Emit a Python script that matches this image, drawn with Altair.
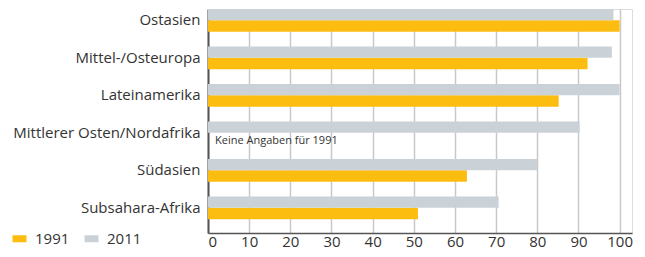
import altair as alt
import pandas as pd

regions = ["Ostasien", "Mittel-/Osteuropa", "Lateinamerika",
           "Mittlerer Osten/Nordafrika", "Südasien", "Subsahara-Afrika"]
v1991 = [100, 92.2, 85.2, None, 62.9, 51]
v2011 = [98.5, 98.1, 100, 90.3, 80, 70.6]
years = ["1991", "2011"]
colors = ["#FDBD10", "#CAD2D8"]
ticks = [0, 10, 20, 30, 40, 50, 60, 70, 80, 90, 100]
note_text = "Keine Angaben für 1991"
note_region = "Mittlerer Osten/Nordafrika"

FONT = "Open Sans"

rows = []
for r, a, b in zip(regions, v1991, v2011):
    if a is not None:
        rows.append({"region": r, "year": "1991", "value": a})
    rows.append({"region": r, "year": "2011", "value": b})
df = pd.DataFrame(rows)
note_df = pd.DataFrame({"region": [note_region], "year": ["1991"], "label": [note_text]})

y_enc = alt.Y("region:N", sort=regions,
              scale=alt.Scale(domain=regions, paddingInner=0.395, paddingOuter=0.184, align=0),
              axis=alt.Axis(title=None, ticks=False, domainColor="#555555", domainWidth=2,
                            labelFontSize=15, labelColor="#333333", labelPadding=8,
                            labelLimit=300, labelFont=FONT))
yoff_enc = alt.YOffset("year:N", scale=alt.Scale(domain=["2011", "1991"], paddingInner=0, paddingOuter=0))

bars = alt.Chart(df).mark_bar().encode(
    x=alt.X("value:Q", scale=alt.Scale(domain=[0, 103], nice=False),
            axis=alt.Axis(values=ticks, title=None, ticks=False, grid=True,
                          gridColor="#c8c8c8", gridWidth=1.5, domainColor="#555555",
                          domainWidth=1.5, labelFontSize=15, labelColor="#333333",
                          labelPadding=1, labelFont=FONT)),
    y=y_enc,
    yOffset=yoff_enc,
    color=alt.Color("year:N", scale=alt.Scale(domain=years, range=colors),
                    legend=alt.Legend(orient="none", legendX=-196, legendY=222,
                                      direction="horizontal", title=None, padding=0,
                                      symbolType="M-1,-0.5H1V0.5H-1Z", symbolSize=196,
                                      symbolStrokeWidth=0, symbolOpacity=1,
                                      labelFontSize=15, labelColor="#333333",
                                      labelFont=FONT, labelOffset=8, columnPadding=14)),
)

note = alt.Chart(note_df).mark_text(align="left", baseline="middle", dx=7, dy=2,
                                     fontSize=11, color="#333333", font=FONT).encode(
    x=alt.value(0),
    y=y_enc,
    yOffset=yoff_enc,
    text="label:N",
)

chart = alt.layer(bars, note).properties(
    width=424, height=224,
    autosize=alt.AutoSizeParams(type="none"),
    padding={"left": 200, "top": 1, "right": 5, "bottom": 16},
).configure_view(stroke=None).configure(font=FONT)

chart.save("out.html", embed_options={"renderer": "svg", "actions": False})
